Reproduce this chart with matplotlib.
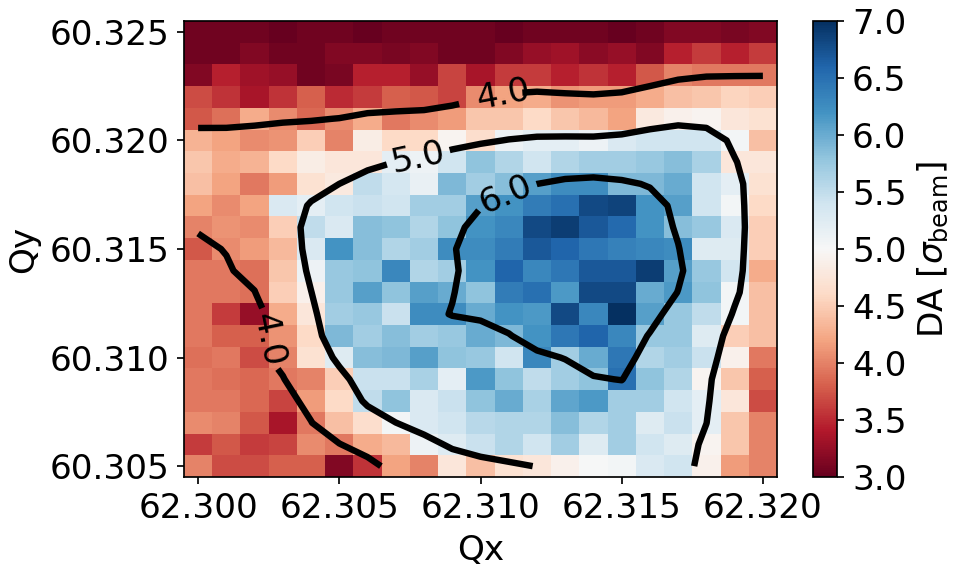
import numpy as np
import matplotlib
matplotlib.use('Agg')
import matplotlib.pyplot as plt

qx = [62.300, 62.301, 62.302, 62.303, 62.304, 62.305, 62.306, 62.307, 62.308, 62.309, 62.310,
      62.311, 62.312, 62.313, 62.314, 62.315, 62.316, 62.317, 62.318, 62.319, 62.320]
qy = [60.305, 60.306, 60.307, 60.308, 60.309, 60.310, 60.311, 60.312, 60.313, 60.314, 60.315,
      60.316, 60.317, 60.318, 60.319, 60.320, 60.321, 60.322, 60.323, 60.324, 60.325]

# DA values, rows listed from top (Qy=60.325) to bottom (Qy=60.305)
da_rows_top_down = [
    [3.05, 3.05, 3.05, 3.00, 3.05, 3.05, 3.00, 3.05, 3.05, 3.05, 3.05, 3.00, 3.05, 3.05, 3.05, 3.00, 3.05, 3.15, 3.15, 3.10, 3.15],
    [3.05, 3.05, 3.15, 3.05, 3.05, 3.15, 3.15, 3.10, 3.15, 3.05, 3.05, 3.15, 3.25, 3.30, 3.20, 3.25, 3.15, 3.45, 3.60, 3.45, 3.60],
    [3.15, 3.45, 3.30, 3.25, 3.05, 3.10, 3.45, 3.45, 3.25, 3.65, 3.35, 3.60, 3.60, 3.45, 3.55, 3.45, 3.75, 4.00, 3.95, 3.95, 3.95],
    [3.70, 3.55, 3.35, 3.55, 3.80, 3.50, 3.60, 3.80, 3.75, 3.65, 4.05, 4.20, 4.25, 4.10, 4.15, 4.15, 4.25, 4.40, 4.45, 4.55, 4.50],
    [3.75, 3.90, 4.25, 4.05, 3.85, 4.05, 4.25, 3.95, 4.05, 4.15, 4.45, 4.45, 4.60, 4.45, 4.35, 4.20, 4.80, 4.90, 4.95, 4.75, 4.70],
    [4.30, 4.20, 4.05, 4.10, 4.50, 4.00, 4.85, 4.60, 4.60, 4.95, 4.65, 5.10, 5.20, 5.20, 5.10, 5.30, 5.40, 5.40, 5.40, 5.05, 4.40],
    [4.45, 4.25, 4.30, 4.60, 4.85, 4.75, 4.75, 5.20, 5.10, 5.40, 5.80, 5.60, 5.40, 5.60, 5.70, 5.70, 5.75, 5.85, 5.65, 4.75, 4.75],
    [4.40, 4.20, 3.95, 4.15, 4.70, 4.80, 5.50, 5.35, 5.15, 5.90, 5.70, 5.85, 6.10, 6.25, 6.25, 5.90, 5.90, 6.00, 5.40, 5.20, 4.70],
    [4.20, 4.05, 4.20, 5.30, 5.20, 5.40, 5.45, 5.40, 5.70, 5.70, 6.10, 6.20, 6.40, 6.50, 6.80, 6.85, 6.20, 6.10, 5.40, 5.05, 4.60],
    [4.00, 4.10, 4.05, 4.50, 5.50, 5.30, 5.85, 5.80, 5.60, 5.80, 6.20, 6.30, 6.80, 6.90, 6.70, 6.55, 6.20, 5.85, 5.75, 5.30, 4.50],
    [3.75, 4.05, 4.15, 4.35, 5.30, 6.20, 5.85, 5.60, 5.70, 6.25, 6.25, 6.40, 6.70, 6.60, 6.45, 6.35, 6.30, 6.25, 5.25, 5.25, 4.50],
    [3.95, 3.95, 3.90, 4.45, 5.10, 5.75, 5.80, 6.30, 5.60, 5.70, 6.20, 6.60, 6.30, 6.45, 6.70, 6.70, 6.90, 6.10, 5.75, 5.40, 4.25],
    [3.95, 3.95, 3.90, 4.50, 4.90, 5.75, 6.10, 5.80, 6.10, 6.00, 5.80, 6.40, 6.50, 6.15, 6.80, 6.80, 6.00, 6.15, 5.80, 5.05, 4.40],
    [3.95, 3.60, 3.25, 4.25, 4.75, 5.70, 5.75, 5.45, 6.25, 6.25, 6.00, 6.20, 6.15, 6.80, 6.30, 7.00, 6.10, 5.75, 5.50, 5.05, 4.40],
    [3.95, 3.80, 3.80, 4.10, 4.60, 5.90, 5.70, 5.85, 5.70, 5.75, 6.00, 5.90, 6.20, 6.45, 6.60, 6.30, 5.75, 5.75, 5.25, 4.50, 4.40],
    [3.90, 3.95, 3.70, 4.00, 4.70, 5.25, 5.85, 5.90, 6.10, 5.80, 5.75, 5.40, 6.30, 5.70, 6.00, 6.45, 5.60, 5.70, 5.45, 4.90, 3.95],
    [3.95, 3.90, 3.85, 3.95, 4.00, 4.50, 5.45, 5.45, 5.65, 5.20, 6.15, 5.80, 5.50, 5.70, 5.80, 6.50, 5.80, 5.60, 4.95, 4.45, 3.80],
    [3.95, 3.95, 3.85, 3.65, 4.15, 4.60, 5.50, 5.80, 5.30, 5.45, 5.80, 6.00, 5.65, 6.05, 6.15, 5.70, 5.70, 5.40, 5.20, 4.75, 3.70],
    [4.05, 4.00, 3.75, 3.35, 3.95, 4.40, 4.65, 5.05, 5.30, 5.40, 5.55, 5.60, 5.60, 5.85, 5.60, 5.70, 5.25, 5.45, 5.20, 4.45, 4.00],
    [3.60, 3.75, 3.60, 3.65, 4.05, 3.95, 4.25, 4.35, 5.10, 5.25, 5.45, 5.60, 5.40, 5.70, 5.25, 5.70, 5.40, 5.25, 4.95, 4.45, 4.00],
    [4.00, 3.70, 3.70, 3.80, 3.80, 3.15, 3.55, 4.20, 4.00, 4.75, 4.40, 4.70, 4.75, 4.90, 5.00, 5.05, 5.30, 5.40, 4.90, 4.15, 4.00],
]

contour_levels = [4.0, 5.0, 6.0]
cbar_ticks = [3.0, 3.5, 4.0, 4.5, 5.0, 5.5, 6.0, 6.5, 7.0]
x_ticks = [62.300, 62.305, 62.310, 62.315, 62.320]
y_ticks = [60.305, 60.310, 60.315, 60.320, 60.325]

DA = np.flipud(np.array(da_rows_top_down))
X, Y = np.meshgrid(qx, qy)


def smooth(z, sigma):
    r = int(3 * sigma) + 1
    k = np.exp(-0.5 * (np.arange(-r, r + 1) / sigma) ** 2)
    k /= k.sum()
    zp = np.pad(z, r, mode='symmetric')
    tmp = np.apply_along_axis(lambda m: np.convolve(m, k, mode='valid'), 1, zp)
    return np.apply_along_axis(lambda m: np.convolve(m, k, mode='valid'), 0, tmp)


DA_s = smooth(DA, 0.9)

plt.rcParams['font.family'] = ['DejaVu Sans']
plt.rcParams['mathtext.fontset'] = 'dejavusans'
fs = 16
DPI = 154

fig = plt.figure(figsize=(953 / DPI, 570 / DPI), dpi=DPI)
ax = fig.add_axes([184 / 953, 1 - 477 / 570, 593 / 953, 456 / 570])
cax = fig.add_axes([813 / 953, 1 - 477 / 570, 24 / 953, 456 / 570])

mesh = ax.pcolormesh(X, Y, DA, cmap='RdBu', vmin=3, vmax=7, shading='nearest')
cs = ax.contour(X, Y, DA_s, levels=contour_levels, colors='k', linewidths=3)
ax.clabel(cs, fmt='%.1f', fontsize=fs, inline=True,
          manual=[(62.3108, 60.3221), (62.3078, 60.3192), (62.3108, 60.3178), (62.3030, 60.3109)])

ax.set_xticks(x_ticks)
ax.set_yticks(y_ticks)
ax.set_xticklabels([f'{v:.3f}' for v in x_ticks])
ax.set_yticklabels([f'{v:.3f}' for v in y_ticks])
ax.tick_params(labelsize=fs)
ax.set_xlabel('Qx', fontsize=fs)
ax.set_ylabel('Qy', fontsize=fs)

cb = fig.colorbar(mesh, cax=cax, ticks=cbar_ticks)
cb.ax.set_yticklabels([f'{v:.1f}' for v in cbar_ticks])
cb.ax.tick_params(labelsize=fs)
cb.set_label(r'DA [$\sigma_{\mathrm{beam}}$]', fontsize=fs)

fig.savefig('out.png', dpi=DPI)
